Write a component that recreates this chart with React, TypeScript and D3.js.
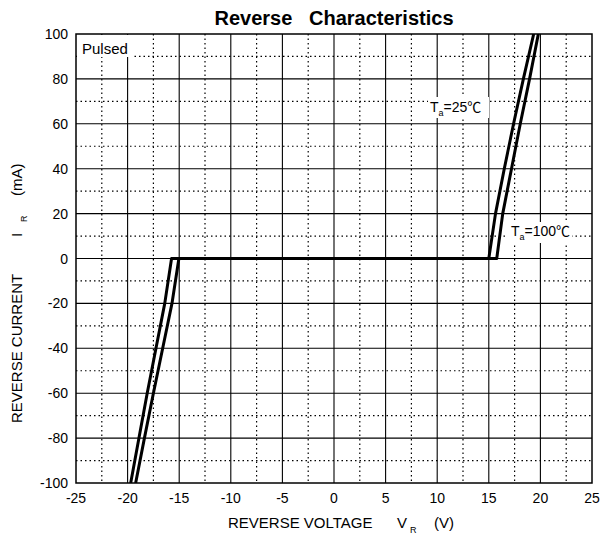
import React from "react";
import * as d3 from "d3";

const W = 602;
const H = 541;

const xTicks = [-25, -20, -15, -10, -5, 0, 5, 10, 15, 20, 25];
const yTicks = [-100, -80, -60, -40, -20, 0, 20, 40, 60, 80, 100];
const xMinor = [-22.5, -17.5, -12.5, -7.5, -2.5, 2.5, 7.5, 12.5, 17.5, 22.5];
const yMinor = [-90, -70, -50, -30, -10, 10, 30, 50, 70, 90];

// Ta = 25 C
const t25V = [-19.22, -18.37, -17.5, -16.6, -15.7, -15.03, 15.0, 15.65, 16.5, 17.4, 18.35, 19.35];
const t25I = [-100, -80, -60, -40, -20, 0, 0, 20, 40, 60, 80, 100];
// Ta = 100 C
const t100V = [-19.7, -18.9, -18.1, -17.25, -16.4, -15.74, 15.77, 16.35, 17.2, 18.05, 18.95, 19.8];
const t100I = [-100, -80, -60, -40, -20, 0, 0, 20, 40, 60, 80, 100];

const FONT = "'Liberation Sans', Arial, 'Noto Sans CJK JP', sans-serif";

export default function App() {
  const left = 76, right = 592, top = 34, bottom = 483;
  const x = d3.scaleLinear().domain([-25, 25]).range([left, right]);
  const y = d3.scaleLinear().domain([-100, 100]).range([bottom, top]);
  const line = d3
    .line<[number, number]>()
    .x((d) => x(d[0]))
    .y((d) => y(d[1]));
  const c25 = t25V.map((v, i) => [v, t25I[i]] as [number, number]);
  const c100 = t100V.map((v, i) => [v, t100I[i]] as [number, number]);

  return (
    <svg
      width={W}
      height={H}
      style={{ position: "fixed", left: 0, top: 0, background: "#fff" }}
      fontFamily={FONT}
    >
      <rect x={0} y={0} width={W} height={H} fill="#fff" />
      <defs>
        <clipPath id="plot">
          <rect x={left} y={top} width={right - left} height={bottom - top} />
        </clipPath>
      </defs>
      {/* minor dotted grid */}
      {xMinor.map((v) => (
        <line
          key={"xm" + v}
          x1={x(v)}
          x2={x(v)}
          y1={top}
          y2={bottom}
          stroke="#000"
          strokeWidth={1.2}
          strokeDasharray="1.5 3"
        />
      ))}
      {yMinor.map((v) => (
        <line
          key={"ym" + v}
          x1={left}
          x2={right}
          y1={y(v)}
          y2={y(v)}
          stroke="#000"
          strokeWidth={1.2}
          strokeDasharray="1.5 3"
        />
      ))}
      {/* major solid grid */}
      {xTicks.slice(1, -1).map((v) => (
        <line
          key={"xg" + v}
          x1={x(v)}
          x2={x(v)}
          y1={top}
          y2={bottom}
          stroke="#000"
          strokeWidth={1.1}
        />
      ))}
      {yTicks.slice(1, -1).map((v) => (
        <line
          key={"yg" + v}
          x1={left}
          x2={right}
          y1={y(v)}
          y2={y(v)}
          stroke="#000"
          strokeWidth={1.1}
        />
      ))}
      {/* label backgrounds */}
      <rect x={77} y={35} width={55} height={22} fill="#fff" />
      <rect x={428} y={97} width={61} height={21} fill="#fff" />
      <rect x={508} y={222} width={64} height={21} fill="#fff" />
      {/* curves */}
      <g clipPath="url(#plot)" fill="none" stroke="#000" strokeWidth={3} strokeLinejoin="round">
        <path d={line(c25) || ""} />
        <path d={line(c100) || ""} />
      </g>
      {/* frame */}
      <rect
        x={left}
        y={top}
        width={right - left}
        height={bottom - top}
        fill="none"
        stroke="#000"
        strokeWidth={1.5}
      />
      {/* tick labels */}
      {xTicks.map((v) => (
        <text key={"xt" + v} x={x(v)} y={bottom + 20} fontSize={14} textAnchor="middle">
          {v}
        </text>
      ))}
      {yTicks.map((v) => (
        <text
          key={"yt" + v}
          x={left - 8}
          y={y(v) + 5}
          fontSize={14}
          textAnchor="end"
        >
          {v}
        </text>
      ))}
      {/* title */}
      <text
        x={(left + right) / 2}
        y={25}
        fontSize={20}
        fontWeight="bold"
        textAnchor="middle"
        style={{ whiteSpace: "pre" }}
      >
        {"Reverse   Characteristics"}
      </text>
      {/* annotations */}
      <text x={82} y={54} fontSize={15}>
        Pulsed
      </text>
      <text x={430} y={112} fontSize={14}>
        T
        <tspan fontSize={9} dy={4}>a</tspan>
        <tspan dy={-4}>=25℃</tspan>
      </text>
      <text x={511} y={236} fontSize={14}>
        T
        <tspan fontSize={9} dy={4}>a</tspan>
        <tspan dy={-4}>=100℃</tspan>
      </text>
      {/* x axis label */}
      <text x={228} y={528} fontSize={15}>
        REVERSE VOLTAGE
      </text>
      <text x={397} y={528} fontSize={15}>
        V
      </text>
      <text x={410} y={533} fontSize={9}>
        R
      </text>
      <text x={434} y={528} fontSize={15}>
        (V)
      </text>
      {/* y axis label */}
      <g transform="translate(22,0) rotate(-90)">
        <text x={-423} y={0} fontSize={15}>
          REVERSE CURRENT
        </text>
        <text x={-237} y={0} fontSize={15}>
          I
        </text>
        <text x={-222} y={5} fontSize={9}>
          R
        </text>
        <text x={-196} y={0} fontSize={15}>
          (mA)
        </text>
      </g>
    </svg>
  );
}
